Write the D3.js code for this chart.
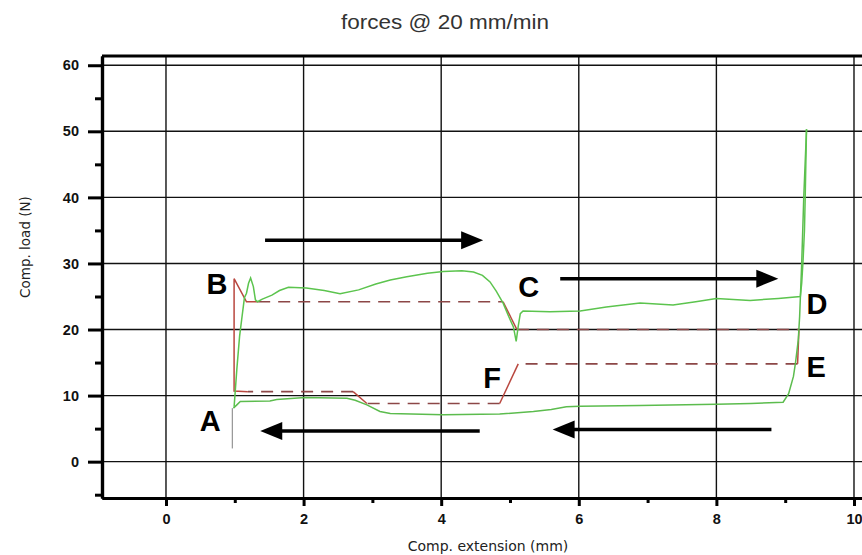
<!DOCTYPE html>
<html>
<head>
<meta charset="utf-8">
<script src="https://cdn.jsdelivr.net/npm/d3@7"></script>
<style>
  body { margin: 0; background: #fff; }
  svg { display: block; }
</style>
</head>
<body>
<div id="chart"></div>
<script>
// values
const xTicks = [0, 2, 4, 6, 8, 10]
const xMinor = [1, 3, 5, 7, 9]
const yTicks = [0, 10, 20, 30, 40, 50, 60]
const yMinor = [-5, 5, 15, 25, 35, 45, 55]

// measured load, going up (A -> B -> C -> D)
const loading = [
  [0.99, 8.3], [1.03, 14], [1.07, 19], [1.10, 21.5], [1.14, 24.8], [1.17, 25.5],
  [1.20, 27.0], [1.23, 27.8], [1.27, 26.5], [1.30, 24.5], [1.33, 24.2], [1.40, 24.6],
  [1.54, 25.2], [1.65, 25.9], [1.78, 26.4], [2.04, 26.3], [2.3, 25.9], [2.53, 25.4],
  [2.8, 26.0], [3.05, 26.9], [3.26, 27.5], [3.5, 28.0], [3.8, 28.5], [4.03, 28.8],
  [4.3, 28.9], [4.47, 28.7], [4.6, 28.2], [4.71, 27.2], [4.8, 25.8], [4.90, 24.0],
  [4.98, 22.0], [5.05, 20.4], [5.09, 18.2], [5.12, 20.5], [5.15, 22.4], [5.19, 22.8],
  [5.58, 22.7], [6.02, 22.8], [6.4, 23.4], [6.89, 24.0], [7.37, 23.7], [7.7, 24.2],
  [8.0, 24.7], [8.49, 24.4], [8.9, 24.7], [9.22, 25.0], [9.24, 27], [9.26, 30.5],
  [9.28, 35], [9.29, 39.6], [9.30, 45], [9.31, 50.3]]

// measured load, coming back (D -> E -> F -> A)
const unloading = [
  [9.31, 50.3], [9.27, 40], [9.24, 30], [9.21, 22], [9.19, 18.4], [9.15, 15],
  [9.12, 12.9], [9.05, 10.3], [8.97, 9.0], [8.5, 8.8], [8.0, 8.7], [6.89, 8.5],
  [6.02, 8.4], [5.82, 8.3], [5.6, 7.9], [5.34, 7.6], [4.85, 7.2], [4.03, 7.1],
  [3.26, 7.3], [3.11, 7.6], [2.92, 8.6], [2.75, 9.3], [2.63, 9.6], [2.02, 9.7],
  [1.61, 9.4], [1.51, 9.2], [1.08, 9.1], [1.03, 8.6], [0.98, 8.1]]

const tail = [[0.965, 8.1], [0.965, 2.0]]

// idealised model: solid steps and dashed plateaus
const modelSolid = [
  [[1.19, 10.6], [0.99, 10.7], [0.99, 27.7], [1.17, 24.2], [1.34, 24.2]],
  [[4.90, 24.2], [5.10, 20.0]],
  [[9.20, 20.0], [9.18, 14.8]],
  [[5.12, 14.8], [4.85, 8.8]],
  [[2.92, 8.8], [2.72, 10.6]]]

const modelDashed = [
  [[1.34, 24.2], [4.90, 24.2]],
  [[5.10, 20.0], [9.20, 20.0]],
  [[9.18, 14.8], [5.12, 14.8]],
  [[4.85, 8.8], [2.92, 8.8]],
  [[2.72, 10.6], [1.19, 10.6]]]

const arrows = [
  {from: 1.44, to: 4.61, load: 33.5},
  {from: 5.73, to: 8.90, load: 27.7},
  {from: 4.56, to: 1.37, load: 4.64},
  {from: 8.80, to: 5.62, load: 4.87}]

const pointLabels = [
  {text: "A", x: 0.49, load: 4.64},
  {text: "B", x: 0.59, load: 25.4},
  {text: "C", x: 5.12, load: 24.9},
  {text: "D", x: 9.31, load: 22.3},
  {text: "E", x: 9.31, load: 12.8},
  {text: "F", x: 4.61, load: 11.15}]

let margin = {top: 56, left: 102},
    width = 763,
    height = 442

let svg = d3.select("#chart")
            .append("svg")
            .attr("width", 862)
            .attr("height", 555)

svg.append("text")
   .attr("x", 445)
   .attr("y", 29)
   .attr("text-anchor", "middle")
   .attr("textLength", 208)
   .attr("lengthAdjust", "spacingAndGlyphs")
   .style("font-family", "'Liberation Sans Narrow', 'Liberation Sans', sans-serif")
   .style("font-size", "21px")
   .style("fill", "#333")
   .text("forces @ 20 mm/min")

let g = svg.append("g")
           .attr("transform", "translate(" + margin.left + "," + margin.top + ")")

let x = d3.scaleLinear().domain([-0.93, 10.16]).range([0, width])
let y = d3.scaleLinear().domain([-5.5, 61.4]).range([height, 0])

// grid
g.append("g").selectAll("line")
 .data(xTicks)
 .join("line")
 .attr("x1", d => x(d)).attr("x2", d => x(d))
 .attr("y1", 0).attr("y2", height)
 .attr("stroke", "#111").attr("stroke-width", 1.4)

g.append("g").selectAll("line")
 .data(yTicks)
 .join("line")
 .attr("x1", 0).attr("x2", width)
 .attr("y1", d => y(d)).attr("y2", d => y(d))
 .attr("stroke", "#111").attr("stroke-width", 1.4)

// top frame line
g.append("line")
 .attr("x1", 0).attr("x2", width)
 .attr("y1", 0).attr("y2", 0)
 .attr("stroke", "#000").attr("stroke-width", 3)

// axes
function styleAxis(sel) {
  sel.select(".domain").attr("stroke", "#000").attr("stroke-width", 3.2)
  sel.selectAll(".tick line").attr("stroke", "#000").attr("stroke-width", 3)
  sel.selectAll("text")
     .style("font-family", "'Liberation Sans', Arial, sans-serif")
     .style("font-weight", "bold")
     .style("font-size", "14.5px")
     .style("fill", "#111")
}

g.append("g")
 .call(d3.axisLeft(y).tickValues(yMinor).tickSize(7).tickSizeOuter(0).tickFormat(""))
 .call(styleAxis)
g.append("g")
 .call(d3.axisLeft(y).tickValues(yTicks).tickSize(14).tickSizeOuter(0).tickPadding(9))
 .call(styleAxis)

g.append("g")
 .attr("transform", "translate(0," + height + ")")
 .call(d3.axisBottom(x).tickValues(xMinor).tickSize(5).tickSizeOuter(0).tickFormat(""))
 .call(styleAxis)
g.append("g")
 .attr("transform", "translate(0," + height + ")")
 .call(d3.axisBottom(x).tickValues(xTicks).tickSize(8).tickSizeOuter(0).tickPadding(8))
 .call(styleAxis)

// axis titles
svg.append("text")
   .attr("x", 488)
   .attr("y", 551)
   .attr("text-anchor", "middle")
   .style("font-family", "'DejaVu Sans', sans-serif")
   .style("font-size", "14px")
   .style("fill", "#222")
   .text("Comp. extension (mm)")

svg.append("text")
   .attr("transform", "translate(30,247) rotate(-90)")
   .attr("text-anchor", "middle")
   .style("font-family", "'DejaVu Sans', sans-serif")
   .style("font-size", "13.5px")
   .style("fill", "#222")
   .text("Comp. load (N)")

let line = d3.line().x(d => x(d[0])).y(d => y(d[1]))

// model steps
g.append("g").selectAll("path")
 .data(modelDashed)
 .join("path")
 .attr("d", line)
 .attr("fill", "none")
 .attr("stroke", "#8c4747")
 .attr("stroke-width", 1.6)
 .attr("stroke-dasharray", "12,8")

g.append("g").selectAll("path")
 .data(modelSolid)
 .join("path")
 .attr("d", line)
 .attr("fill", "none")
 .attr("stroke", "#b9473f")
 .attr("stroke-width", 1.5)

// measured curve
g.append("path").datum(tail)
 .attr("d", line).attr("fill", "none")
 .attr("stroke", "#9a9a9a").attr("stroke-width", 1.3)

g.append("path").datum(unloading)
 .attr("d", line).attr("fill", "none")
 .attr("stroke", "#5cbc4e").attr("stroke-width", 1.5)

g.append("path").datum(loading)
 .attr("d", line).attr("fill", "none")
 .attr("stroke", "#5cc44e").attr("stroke-width", 1.5)

// direction arrows
let headLen = 22, headHalf = 9
arrows.forEach(function(a) {
  let x0 = x(a.from), x1 = x(a.to), yy = y(a.load)
  let dir = x1 > x0 ? 1 : -1
  g.append("line")
   .attr("x1", x0).attr("x2", x1 - dir * headLen + dir * 2)
   .attr("y1", yy).attr("y2", yy)
   .attr("stroke", "#000").attr("stroke-width", 3.5)
  g.append("path")
   .attr("d", "M" + x1 + "," + yy +
              "L" + (x1 - dir * headLen) + "," + (yy - headHalf) +
              "L" + (x1 - dir * headLen) + "," + (yy + headHalf) + "Z")
   .attr("fill", "#000")
})

// point letters
g.append("g").selectAll("text")
 .data(pointLabels)
 .join("text")
 .attr("x", d => x(d.x))
 .attr("y", d => y(d.load))
 .style("font-family", "'Liberation Sans', Arial, sans-serif")
 .style("font-weight", "bold")
 .style("font-size", "29px")
 .style("fill", "#000")
 .text(d => d.text)
</script>
</body>
</html>
